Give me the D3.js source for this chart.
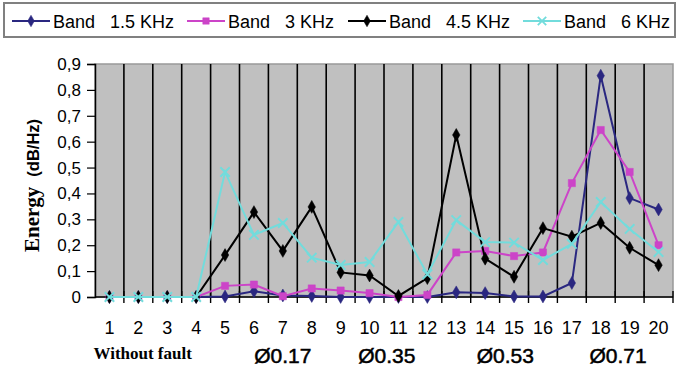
<!DOCTYPE html>
<html>
<head>
<meta charset="utf-8">
<script src="https://cdn.jsdelivr.net/npm/d3@7/dist/d3.min.js"></script>
<style>
  body { margin: 0; background: #fff; }
  svg { display: block; }
</style>
</head>
<body>
<svg width="678" height="367"></svg>
<script>
var categories = [1, 2, 3, 4, 5, 6, 7, 8, 9, 10, 11, 12, 13, 14, 15, 16, 17, 18, 19, 20];
var band15 = [0, 0, 0, 0, 0.002, 0.022, 0.006, 0.004, 0, 0, 0, 0, 0.018, 0.015, 0.002, 0.002, 0.054, 0.855, 0.382, 0.338];
var band3  = [0, 0, 0, 0, 0.043, 0.048, 0.003, 0.033, 0.025, 0.015, 0, 0.008, 0.172, 0.178, 0.158, 0.172, 0.44, 0.645, 0.483, 0.2];
var band45 = [0, 0, 0, 0, 0.162, 0.328, 0.178, 0.348, 0.095, 0.083, 0.004, 0.073, 0.626, 0.148, 0.078, 0.266, 0.233, 0.286, 0.19, 0.123];
var band6  = [0, 0, 0, 0, 0.483, 0.24, 0.286, 0.152, 0.124, 0.135, 0.29, 0.088, 0.297, 0.212, 0.21, 0.143, 0.205, 0.367, 0.263, 0.174];
var seriesNames = ["Band   1.5 KHz", "Band   3 KHz", "Band   4.5 KHz", "Band   6 KHz"];
var yTicks = [0, 0.1, 0.2, 0.3, 0.4, 0.5, 0.6, 0.7, 0.8, 0.9];
var groupLabels = ["Without fault", "Ø0.17", "Ø0.35", "Ø0.53", "Ø0.71"];
var groupPos = [2.15, 7, 10.6, 14.7, 18.6];

var svg = d3.select("svg");

var x = d3.scaleLinear().domain([0.5, 20.5]).range([95, 673]);
var y = d3.scaleLinear().domain([0, 0.9]).range([297, 64]);

var series = [
  { name: seriesNames[0], values: band15, color: "#2a2780", symbol: d3.symbolDiamond, size: 48 },
  { name: seriesNames[1], values: band3,  color: "#cc44c8", symbol: d3.symbolSquare,  size: 52 },
  { name: seriesNames[2], values: band45, color: "#000000", symbol: d3.symbolDiamond, size: 48 },
  { name: seriesNames[3], values: band6,  color: "#72dcdc", symbol: d3.symbolTimes || d3.symbolX, size: 60 }
];

// plot background
svg.append("rect")
    .attr("x", x(0.5)).attr("y", y(0.9))
    .attr("width", x(20.5) - x(0.5)).attr("height", y(0) - y(0.9))
    .attr("fill", "#c0c0c0")
    .attr("stroke", "#999")
    .attr("stroke-width", 1.5);

// vertical grid lines between categories
svg.append("g")
  .selectAll("line")
  .data(categories.slice(0, -1))
  .enter().append("line")
    .attr("x1", function(d) { return x(d + 0.5); })
    .attr("x2", function(d) { return x(d + 0.5); })
    .attr("y1", y(0.9))
    .attr("y2", y(0))
    .attr("stroke", "#000")
    .attr("stroke-width", 1.6);

// y axis
var yAxis = svg.append("g")
    .attr("transform", "translate(" + x(0.5) + ",0)")
    .call(d3.axisLeft(y).tickValues(yTicks).tickSize(8).tickPadding(6)
      .tickFormat(function(d) { return d === 0 ? "0" : d3.format(".1f")(d).replace(".", ","); }));
yAxis.select(".domain").attr("stroke", "#000").attr("stroke-width", 1.5);
yAxis.selectAll(".tick line").attr("stroke", "#000").attr("stroke-width", 1.2);
yAxis.selectAll("text")
    .style("font-family", "'Liberation Sans', Arial, sans-serif")
    .style("font-size", "17px")
    .attr("fill", "#000");

// x axis: crossing ticks at category boundaries
svg.append("line")
    .attr("x1", x(0.5)).attr("x2", x(20.5))
    .attr("y1", y(0)).attr("y2", y(0))
    .attr("stroke", "#000").attr("stroke-width", 1.5);
svg.append("g")
  .selectAll("line")
  .data(categories)
  .enter().append("line")
    .attr("x1", function(d) { return x(d + 0.5); })
    .attr("x2", function(d) { return x(d + 0.5); })
    .attr("y1", y(0) - 6)
    .attr("y2", y(0) + 6)
    .attr("stroke", "#000")
    .attr("stroke-width", 1.4);

svg.append("g")
  .selectAll("text")
  .data(categories)
  .enter().append("text")
    .attr("x", function(d) { return x(d); })
    .attr("y", 334)
    .attr("text-anchor", "middle")
    .style("font-family", "'Liberation Sans Narrow', 'Arial Narrow', sans-serif")
    .style("font-size", "18px")
    .text(function(d) { return d; });

// group labels under the axis
svg.append("g")
  .selectAll("text")
  .data(groupLabels)
  .enter().append("text")
    .attr("x", function(d, i) { return x(groupPos[i]); })
    .attr("y", function(d, i) { return i === 0 ? 359 : 363; })
    .attr("text-anchor", "middle")
    .style("font-family", function(d, i) { return i === 0 ? "'Liberation Serif', 'Times New Roman', serif" : "'Liberation Sans', Arial, sans-serif"; })
    .style("font-weight", function(d, i) { return i === 0 ? "bold" : "normal"; })
    .style("font-size", function(d, i) { return i === 0 ? "17px" : "21px"; })
    .attr("stroke", function(d, i) { return i === 0 ? "none" : "#000"; })
    .attr("stroke-width", 0.5)
    .text(function(d) { return d; });

// y axis title
var yTitle = svg.append("text")
    .attr("transform", "translate(39,252) rotate(-90)")
    .attr("text-anchor", "start")
    .style("font-weight", "bold");
yTitle.append("tspan")
    .style("font-family", "'Liberation Serif', 'Times New Roman', serif")
    .style("font-size", "21px")
    .text("Energy");
yTitle.append("tspan")
    .attr("dx", 10)
    .style("font-family", "'Liberation Sans', Arial, sans-serif")
    .style("font-size", "16.5px")
    .text("(dB/Hz)");

// lines and markers
var line = d3.line()
    .x(function(d, i) { return x(categories[i]); })
    .y(function(d) { return y(d); });

series.forEach(function(s) {
  var g = svg.append("g");
  g.append("path")
      .datum(s.values)
      .attr("d", line)
      .attr("fill", "none")
      .attr("stroke", s.color)
      .attr("stroke-width", 2);
  g.selectAll("path.m")
    .data(s.values)
    .enter().append("path")
      .attr("class", "m")
      .attr("d", d3.symbol(s.symbol, s.size))
      .attr("transform", function(d, i) { return "translate(" + x(categories[i]) + "," + y(d) + ")"; })
      .attr("fill", s.color)
      .attr("stroke", s.color)
      .attr("stroke-width", s.symbol === d3.symbolDiamond || s.symbol === d3.symbolSquare ? 0.5 : 2);
});

// legend
svg.append("rect")
    .attr("x", 4).attr("y", 3)
    .attr("width", 671).attr("height", 34)
    .attr("fill", "#fff")
    .attr("stroke", "#808080")
    .attr("stroke-width", 2);

var legendX = [12, 187, 348, 523];
var legend = svg.append("g")
  .selectAll("g")
  .data(series)
  .enter().append("g")
    .attr("transform", function(d, i) { return "translate(" + legendX[i] + ",21)"; });
legend.append("line")
    .attr("x1", 0).attr("x2", 38)
    .attr("stroke", function(d) { return d.color; })
    .attr("stroke-width", 2);
legend.append("path")
    .attr("d", function(d) { return d3.symbol(d.symbol, d.size * 0.8)(); })
    .attr("transform", "translate(19,0)")
    .attr("fill", function(d) { return d.color; })
    .attr("stroke", function(d) { return d.color; })
    .attr("stroke-width", function(d) { return d.symbol === d3.symbolDiamond || d.symbol === d3.symbolSquare ? 0.5 : 1.8; });
legend.append("text")
    .attr("x", 41)
    .attr("y", 7)
    .style("white-space", "pre")
    .style("font-family", "'Liberation Sans', Arial, sans-serif")
    .style("font-size", "18px")
    .text(function(d) { return d.name; });
</script>
</body>
</html>
